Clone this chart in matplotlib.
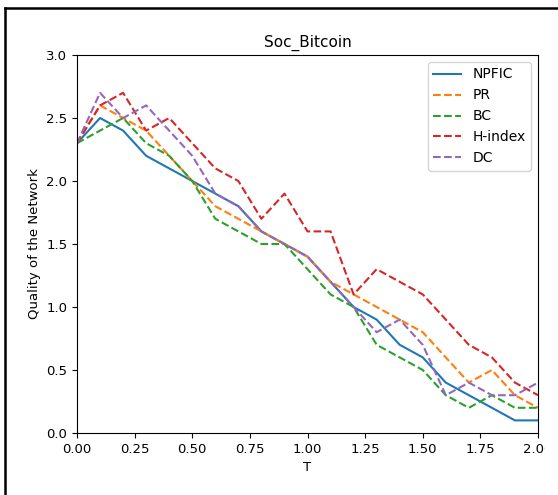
import matplotlib
matplotlib.use("Agg")
import matplotlib.pyplot as plt
from matplotlib.lines import Line2D
from matplotlib.patches import Rectangle

T = [round(0.1 * i, 1) for i in range(21)]
npfic = [2.3, 2.5, 2.4, 2.2, 2.1, 2.0, 1.9, 1.8, 1.6, 1.5, 1.4, 1.2, 1.0, 0.9, 0.7, 0.6, 0.4, 0.3, 0.2, 0.1, 0.1]
pr = [2.3, 2.6, 2.5, 2.4, 2.2, 2.0, 1.8, 1.7, 1.6, 1.5, 1.4, 1.2, 1.1, 1.0, 0.9, 0.8, 0.6, 0.4, 0.5, 0.3, 0.2]
bc = [2.3, 2.4, 2.5, 2.3, 2.2, 2.0, 1.7, 1.6, 1.5, 1.5, 1.3, 1.1, 1.0, 0.7, 0.6, 0.5, 0.3, 0.2, 0.3, 0.2, 0.2]
hindex = [2.3, 2.6, 2.7, 2.4, 2.5, 2.3, 2.1, 2.0, 1.7, 1.9, 1.6, 1.6, 1.1, 1.3, 1.2, 1.1, 0.9, 0.7, 0.6, 0.4, 0.3]
dc = [2.3, 2.7, 2.5, 2.6, 2.4, 2.2, 1.9, 1.8, 1.6, 1.5, 1.4, 1.2, 1.0, 0.8, 0.9, 0.7, 0.3, 0.4, 0.3, 0.3, 0.4]

series = [("NPFIC", npfic, "-"), ("PR", pr, "--"), ("BC", bc, "--"),
          ("H-index", hindex, "--"), ("DC", dc, "--")]
colors = ["#1f77b4", "#ff7f0e", "#2ca02c", "#d62728", "#9467bd"]

W, H = 558, 495
fig = plt.figure(figsize=(W / 100, H / 100), dpi=100)
ax = fig.add_axes([77 / W, 1 - 433 / H, (538 - 77) / W, (433 - 55) / H])

for (name, vals, ls), c in zip(series, colors):
    ax.plot(T, vals, ls, color=c, label=name, linewidth=1.5)

ax.set_xlim(0, 2.0)
ax.set_ylim(0, 3.0)
ax.set_xticks([0, 0.25, 0.5, 0.75, 1.0, 1.25, 1.5, 1.75, 2.0])
ax.set_yticks([0, 0.5, 1.0, 1.5, 2.0, 2.5, 3.0])
ax.tick_params(labelsize=9.5)
ax.set_xlabel("T", fontsize=9.5)
ax.set_ylabel("Quality of the Network", fontsize=9.5)
ax.set_title("Soc_Bitcoin", fontsize=11)
ax.legend(loc="upper right", fontsize=10)

# outer frame (left and top edges of the cropped screenshot border)
fig.add_artist(Line2D([4.5 / W, 4.5 / W], [0, 1 - 7.5 / H], transform=fig.transFigure,
                      color="black", linewidth=1.8))
fig.add_artist(Line2D([4.5 / W, 1], [1 - 7.5 / H, 1 - 7.5 / H], transform=fig.transFigure,
                      color="black", linewidth=1.8))
# the screenshot is cut just right of the last tick label
fig.add_artist(Rectangle((545 / W, 0), 13 / W, 1 - 12 / H, transform=fig.transFigure,
                         facecolor="white", edgecolor="none", zorder=10))

fig.savefig("out.png", dpi=100)
